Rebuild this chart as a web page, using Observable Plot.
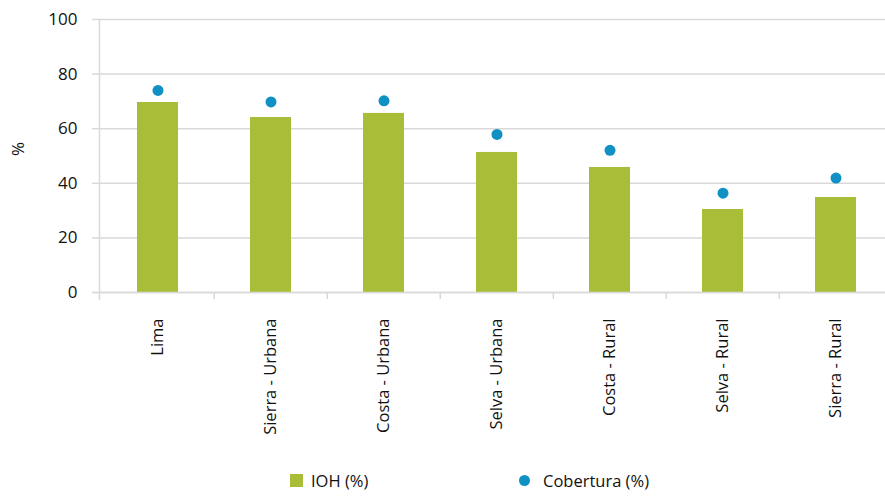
<!DOCTYPE html>
<html><head><meta charset="utf-8">
<script src="https://cdn.jsdelivr.net/npm/d3@7"></script>
<script src="https://cdn.jsdelivr.net/npm/@observablehq/plot@0.6"></script>
<style>
body{margin:0;background:#fff;font-family:"Open Sans",sans-serif;overflow:hidden;}
#legend{position:relative;height:32px;width:885px;font-size:16.5px;color:#111;}
.li{position:absolute;top:4px;display:flex;align-items:center;}
</style></head>
<body>
<div id="chart"></div>
<div id="legend">
  <div class="li" style="left:290px"><span style="display:inline-block;width:13px;height:13px;background:#A9BD38;margin-right:8px"></span>IOH (%)</div>
  <div class="li" style="left:519px"><span style="display:inline-block;width:11px;height:11px;border-radius:50%;background:#1190C4;margin-right:13px"></span>Cobertura (%)</div>
</div>
<script>
const categories = ["Lima","Sierra - Urbana","Costa - Urbana","Selva - Urbana","Costa - Rural","Selva - Rural","Sierra - Rural"];
const ioh = [69.6, 64.1, 65.6, 51.3, 45.8, 30.4, 34.8];
const cobertura = [74.0, 69.8, 70.2, 57.9, 52.1, 36.4, 41.9];
const yTicks = [0,20,40,60,80,100];

const data = categories.map((c,i)=>({cat:c, ioh:ioh[i], cob:cobertura[i]}));
const W = 885, H = 465, mL = 99, mR = 0;
const step = 113.5;
const grid = "#d9d9d9";

const chart = Plot.plot({
  width: W, height: H,
  marginTop: 19, marginLeft: mL, marginRight: mR, marginBottom: H - 292,
  style: {fontFamily: "'Open Sans', sans-serif", fontSize: "17px", color: "#111", overflow: "hidden"},
  x: {domain: categories, range: [mL, mL + step * categories.length], paddingInner: 0.635, paddingOuter: 0.3175, label: null},
  y: {domain: [0,100], label: null},
  marks: [
    Plot.gridY(yTicks, {stroke: grid, strokeOpacity: 1, strokeWidth: 1.5}),
    Plot.axisY(yTicks, {tickSize: 7, stroke: grid, strokeWidth: 1.5, tickPadding: 15, fontSize: 17, label: null}),
    Plot.ruleX(categories, {x: d=>d, dx: -step/2, y1: 0, y2: 0, insetBottom: -7, stroke: grid, strokeWidth: 1.5, filter: (d,i)=>i>0}),
    Plot.frame({anchor: "left", stroke: grid, strokeWidth: 1.5, insetBottom: -7}),
    Plot.barY(data, {x: "cat", y: "ioh", fill: "#A9BD38"}),
    Plot.ruleY([0], {stroke: grid, strokeWidth: 1.5, insetLeft: -7}),
    Plot.dot(data, {x: "cat", y: "cob", r: 5.5, fill: "#1190C4", stroke: null}),
    Plot.axisX({tickRotate: -90, tickSize: 0, tickPadding: 26, fontSize: 16.5, label: null}),
    Plot.text(["%"], {frameAnchor: "left", dx: -81, rotate: -90, fontSize: 17})
  ]
});
document.getElementById("chart").appendChild(chart);
</script>
</body></html>
